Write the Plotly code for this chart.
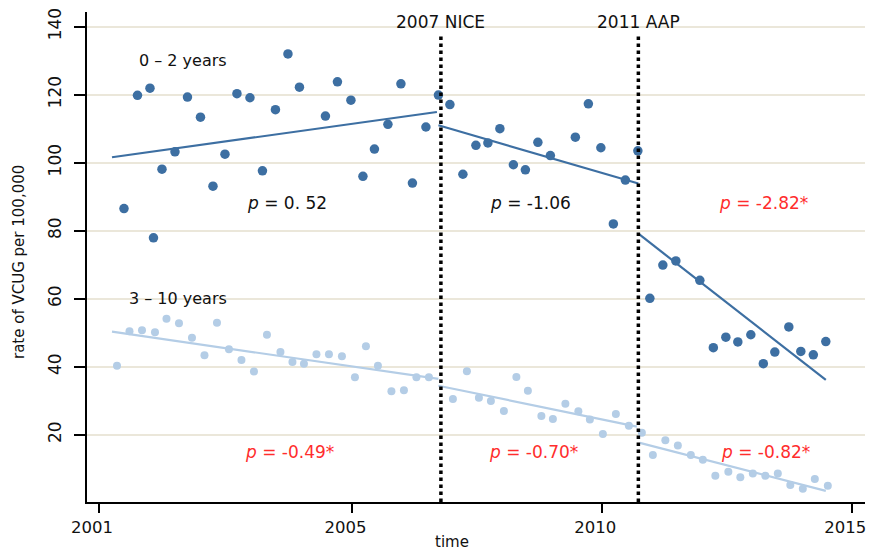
import plotly.graph_objects as go

# ---------------- data ----------------
young_x = [2000.43, 2000.70, 2000.95, 2001.02, 2001.19, 2001.45, 2001.70, 2001.96, 2002.21, 2002.45,
           2002.69, 2002.95, 2003.20, 2003.46, 2003.71, 2003.94, 2004.46, 2004.70, 2004.97, 2005.21,
           2005.44, 2005.71, 2005.97, 2006.20, 2006.47, 2006.72, 2006.95, 2007.21, 2007.47, 2007.71,
           2007.95, 2008.22, 2008.46, 2008.71, 2008.96, 2009.46, 2009.72, 2009.97, 2010.22, 2010.46,
           2010.71, 2010.95, 2011.21, 2011.47, 2011.95, 2012.22, 2012.47, 2012.71, 2012.97, 2013.22,
           2013.45, 2013.73, 2013.97, 2014.22, 2014.47]
young_y = [86.5, 119.8, 121.9, 77.9, 98.1, 103.2, 119.3, 113.4, 93.1, 102.5,
           120.3, 119.1, 97.6, 115.6, 132.0, 122.2, 113.7, 123.8, 118.4, 96.0,
           104.0, 111.3, 123.2, 94.0, 110.5, 119.9, 117.1, 96.6, 105.1, 105.8,
           110.0, 99.4, 97.9, 106.0, 102.1, 107.5, 117.3, 104.4, 82.0, 94.9,
           103.5, 60.1, 69.9, 71.1, 65.4, 45.6, 48.7, 47.3, 49.4, 40.9,
           44.3, 51.7, 44.5, 43.5, 47.4]

old_x = [2000.29, 2000.54, 2000.79, 2001.05, 2001.28, 2001.53, 2001.79, 2002.04, 2002.29, 2002.53,
         2002.78, 2003.03, 2003.29, 2003.56, 2003.80, 2004.03, 2004.28, 2004.53, 2004.79, 2005.05,
         2005.27, 2005.51, 2005.78, 2006.03, 2006.28, 2006.53, 2007.01, 2007.29, 2007.53, 2007.77,
         2008.03, 2008.28, 2008.51, 2008.78, 2009.01, 2009.26, 2009.52, 2009.75, 2010.01, 2010.27,
         2010.53, 2010.79, 2011.01, 2011.26, 2011.51, 2011.77, 2012.01, 2012.26, 2012.52, 2012.76,
         2013.01, 2013.26, 2013.51, 2013.76, 2014.01, 2014.25, 2014.51]
old_y = [40.3, 50.4, 50.7, 50.1, 54.1, 52.8, 48.5, 43.4, 52.9, 45.1,
         42.0, 38.6, 49.4, 44.3, 41.4, 40.9, 43.7, 43.7, 43.1, 36.9,
         46.0, 40.3, 32.8, 33.1, 36.9, 36.9, 30.5, 38.7, 30.9, 29.9,
         27.0, 37.0, 32.9, 25.5, 24.6, 29.1, 26.9, 24.5, 20.2, 26.1,
         22.6, 20.6, 14.0, 18.4, 16.8, 14.0, 12.6, 7.9, 9.1, 7.5,
         8.6, 7.9, 8.6, 5.2, 4.1, 7.0, 5.0]

# fitted segment endpoints (start x, end x, start y, end y)
young_fit_x = [[2000.19, 2006.69], [2006.72, 2010.72], [2010.74, 2014.47]]
young_fit_y = [[101.6, 114.9], [111.0, 93.9], [78.9, 36.1]]
old_fit_x = [[2000.19, 2006.72], [2006.72, 2010.69], [2010.75, 2014.47]]
old_fit_y = [[50.3, 36.4], [34.4, 22.4], [17.6, 3.5]]

policy_x = [2006.77, 2010.72]
policy_labels = ["2007 NICE", "2011 AAP"]

x_tickvals = [1999.93, 2005, 2010, 2015]
x_ticktext = ["2001", "2005", "2010", "2015"]
y_tickvals = [20, 40, 60, 80, 100, 120, 140]

young_p = ["<i>p</i> = 0. 52", "<i>p</i> = -1.06", "<i>p</i> = -2.82*"]
old_p = ["<i>p</i> = -0.49*", "<i>p</i> = -0.70*", "<i>p</i> = -0.82*"]
young_p_sig = [False, False, True]
old_p_sig = [True, True, True]
p_label_x = [2003.70, 2008.57, 2013.22]

# ---------------- style ----------------
DARK = "#3d6fa2"
LIGHT = "#b4cde6"
RED = "#ff2d2d"
GRID = "#ebe7da"
TXT = "#111111"
FONT = "DejaVu Sans"

fig = go.Figure()

for xs, ys in zip(young_fit_x, young_fit_y):
    fig.add_trace(go.Scatter(x=xs, y=ys, mode="lines", line=dict(color=DARK, width=2.2),
                             showlegend=False, hoverinfo="skip"))
for xs, ys in zip(old_fit_x, old_fit_y):
    fig.add_trace(go.Scatter(x=xs, y=ys, mode="lines", line=dict(color=LIGHT, width=2.2),
                             showlegend=False, hoverinfo="skip"))

fig.add_trace(go.Scatter(x=old_x, y=old_y, mode="markers",
                         marker=dict(color=LIGHT, size=8, line=dict(width=0)),
                         showlegend=False))
fig.add_trace(go.Scatter(x=young_x, y=young_y, mode="markers",
                         marker=dict(color=DARK, size=9.5, line=dict(width=0)),
                         showlegend=False))

for px in policy_x:
    fig.add_trace(go.Scatter(x=[px, px], y=[0.2, 137.3], mode="lines",
                             line=dict(color="black", width=3.5, dash="dot"),
                             showlegend=False, hoverinfo="skip"))

annotations = []
for px, lab in zip(policy_x, policy_labels):
    annotations.append(dict(x=px, y=141.3, xref="x", yref="y", text=lab, showarrow=False,
                            xanchor="center", yanchor="middle",
                            font=dict(size=17, color=TXT, family=FONT)))

annotations.append(dict(x=2001.62, y=130.2, xref="x", yref="y", text="0 \u2013 2 years",
                        showarrow=False, xanchor="center", yanchor="middle",
                        font=dict(size=16, color=TXT, family=FONT)))
annotations.append(dict(x=2001.52, y=60.2, xref="x", yref="y", text="3 \u2013 10 years",
                        showarrow=False, xanchor="center", yanchor="middle",
                        font=dict(size=16, color=TXT, family=FONT)))

for xx, t, sig in zip(p_label_x, young_p, young_p_sig):
    annotations.append(dict(x=xx, y=88.1, xref="x", yref="y", text=t, showarrow=False,
                            xanchor="center", yanchor="middle",
                            font=dict(size=17, color=RED if sig else TXT, family=FONT)))
for xx, t, sig in zip(p_label_x, old_p, old_p_sig):
    annotations.append(dict(x=xx + 0.05, y=14.8, xref="x", yref="y", text=t, showarrow=False,
                            xanchor="center", yanchor="middle",
                            font=dict(size=17, color=RED if sig else TXT, family=FONT)))

# axis titles placed by pixel position
L, R, T, B = 87, 7, 12, 49
W, H = 872, 551
pw, ph = W - L - R, H - T - B
annotations.append(dict(x=(452 - L) / pw, y=((H - 542) - B) / ph, xref="paper", yref="paper",
                        text="time", showarrow=False, xanchor="center", yanchor="middle",
                        font=dict(size=15, color=TXT, family=FONT)))
annotations.append(dict(x=(19 - L) / pw, y=((H - 262) - B) / ph, xref="paper", yref="paper",
                        text="rate of VCUG per 100,000", textangle=-90,
                        showarrow=False, xanchor="center", yanchor="middle",
                        font=dict(size=15, color=TXT, family=FONT)))

fig.update_layout(
    width=W, height=H,
    margin=dict(l=L, r=R, t=T, b=B, pad=0, autoexpand=False),
    paper_bgcolor="white", plot_bgcolor="white",
    font=dict(family=FONT, size=16, color=TXT),
    annotations=annotations,
    xaxis=dict(range=[1999.69, 2015.254], tickvals=x_tickvals, ticktext=x_ticktext,
               showgrid=False, zeroline=False, showline=True, linecolor="black", linewidth=2,
               ticks="outside", ticklen=9, tickwidth=2, tickcolor="black",
               ticklabeloverflow="allow", automargin=False, ticklabelshift=-7,
               tickfont=dict(size=16.5, family=FONT, color=TXT)),
    yaxis=dict(range=[0.21, 144.32], tickvals=y_tickvals, tickangle=-90,
               showgrid=True, gridcolor=GRID, gridwidth=2, zeroline=False,
               showline=True, linecolor="black", linewidth=2,
               ticks="outside", ticklen=11, tickwidth=2, tickcolor="black",
               ticklabelstandoff=6, automargin=False,
               tickfont=dict(size=17, family=FONT, color=TXT)),
)

fig.write_html("out.html")
